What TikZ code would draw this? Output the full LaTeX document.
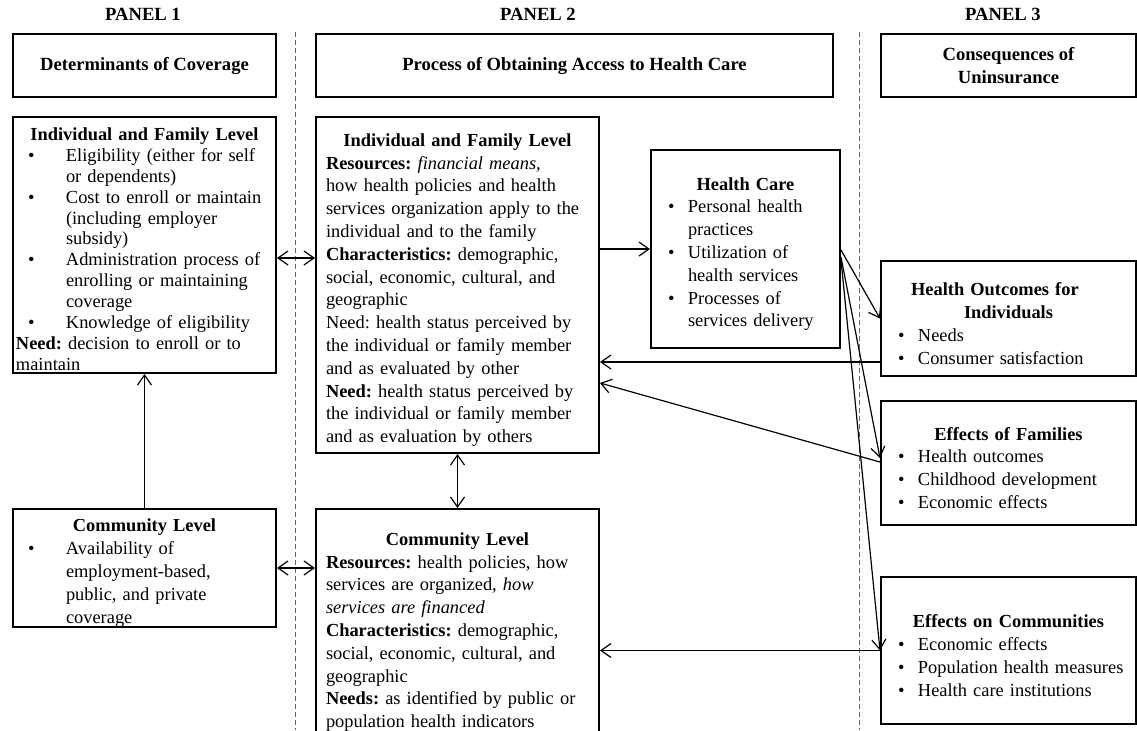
\documentclass[tikz,border=0pt]{standalone}
\usepackage{fontspec}
\setmainfont{Liberation Serif}
\usetikzlibrary{arrows.meta}
\frenchspacing

\newlength\pxu
\setlength\pxu{0.5pt}
\newcommand\hd[1]{\par{\centering\bfseries #1\par}}
\newcommand\txt[1]{\par{\noindent #1\par}}
\newcommand\bul[3]{\par{\leftskip=#1\relax\noindent\hspace*{\dimexpr#2-#1\relax}\makebox[\dimexpr#1-#2\relax][l]{\textbullet}#3\par}}
\newcommand\wbul[1]{\bul{25pt}{6pt}{#1}}
\newcommand\nbul[1]{\bul{17pt}{7pt}{#1}}

\begin{document}
\begin{tikzpicture}[
    x=0.5pt, y=-0.5pt,
    font=\fontsize{9.2}{11.4}\selectfont,
    >={Straight Barb[length=5pt,width=7pt]},
    box/.style={draw, line width=1pt, anchor=north west, inner ysep=0pt},
    titlebox/.style={box, align=center, font=\fontsize{9.3}{11.4}\selectfont\bfseries},
    textbox/.style={box, align=left},
    panel/.style={font=\fontsize{9.3}{11.4}\selectfont\bfseries},
    sep/.style={dashed, dash pattern=on 2.5pt off 1.5pt, gray!80!black, line width=0.5pt},
    link/.style={line width=0.6pt}
  ]
  \useasboundingbox (0,0) rectangle (1137,730);
  \clip (0,0) rectangle (1137,730);

  \node[panel] (pan1) at (143,14) {PANEL 1};
  \node[panel] (pan2) at (538,14) {PANEL 2};
  \node[panel] (pan3) at (1003,14) {PANEL 3};

  \coordinate (sepa top) at (295,32);
  \coordinate (sepa bot) at (295,730);
  \coordinate (sepb top) at (859,32);
  \coordinate (sepb bot) at (859,730);
  \draw[sep] (sepa top) -- (sepa bot);
  \draw[sep] (sepb top) -- (sepb bot);

  \node[titlebox, minimum width=263\pxu, minimum height=63\pxu] (det) at (12,33) {Determinants of Coverage};
  \node[titlebox, minimum width=517\pxu, minimum height=63\pxu] (proc) at (315,33) {Process of Obtaining Access to Health Care};
  \node[titlebox, minimum width=255\pxu, minimum height=63\pxu] (cons) at (880,33) {Consequences of\\Uninsurance};

  \node[textbox, minimum width=263\pxu, minimum height=256\pxu, text width=257\pxu, inner xsep=3\pxu,
    font=\fontsize{9.2}{10.45}\selectfont] (if1) at (12,116) {
    \hd{Individual and Family Level}
    \wbul{Eligibility (either for self\newline or dependents)}
    \wbul{Cost to enroll or maintain\newline (including employer\newline subsidy)}
    \wbul{Administration process of\newline enrolling or maintaining\newline coverage}
    \wbul{Knowledge of eligibility}
    \txt{\textbf{Need:} decision to enroll or to\newline maintain}};

  \node[textbox, minimum width=263\pxu, minimum height=113\pxu, text width=257\pxu, inner xsep=3\pxu] (c1) at (12,508) {
    \hd{Community Level}
    \wbul{Availability of\newline employment-based,\newline public, and private\newline coverage}};

  \node[textbox, minimum width=283\pxu, minimum height=336\pxu, text width=263\pxu, inner xsep=10\pxu] (if2) at (315,116) {
    \hd{Individual and Family Level}
    \txt{\textbf{Resources:} \textit{financial means,}\newline
      how health policies and health\newline
      services organization apply to the\newline
      individual and to the family}
    \txt{\textbf{Characteristics:} demographic,\newline
      social, economic, cultural, and\newline
      geographic}
    \txt{Need: health status perceived by\newline
      the individual or family member\newline
      and as evaluated by other}
    \txt{\textbf{Need:} health status perceived by\newline
      the individual or family member\newline
      and as evaluation by others}};

  \node[textbox, minimum width=283\pxu, minimum height=236\pxu, text width=263\pxu, inner xsep=10\pxu] (c2) at (315,508) {
    \hd{Community Level}
    \txt{\textbf{Resources:} health policies, how\newline
      services are organized, \textit{how\newline
      services are financed}}
    \txt{\textbf{Characteristics:} demographic,\newline
      social, economic, cultural, and\newline
      geographic}
    \txt{\textbf{Needs:} as identified by public or\newline
      population health indicators}};

  \node[textbox, minimum width=189\pxu, minimum height=198\pxu, text width=183\pxu, inner xsep=3\pxu] (hc) at (650,149) {
    \hd{Health Care}
    \nbul{Personal health\newline practices}
    \nbul{Utilization of\newline health services}
    \nbul{Processes of\newline services delivery}};

  \node[textbox, minimum width=255\pxu, minimum height=115\pxu, text width=249\pxu, inner xsep=3\pxu] (ho) at (880,260) {
    \hd{Health Outcomes for\newline Individuals}
    \nbul{Needs}
    \nbul{Consumer satisfaction}};

  \node[textbox, minimum width=255\pxu, minimum height=124\pxu, text width=249\pxu, inner xsep=3\pxu] (eof) at (880,400) {
    \hd{Effects of Families}
    \nbul{Health outcomes}
    \nbul{Childhood development}
    \nbul{Economic effects}};

  \node[textbox, minimum width=255\pxu, minimum height=147\pxu, text width=249\pxu, inner xsep=3\pxu] (eoc) at (880,576) {
    \hd{Effects on Communities}
    \nbul{Economic effects}
    \nbul{Population health measures}
    \nbul{Health care institutions}};

  \draw[link, ->] (c1.north) -- (if1.south);
  \draw[link, <->] (if1.east |- 0,258) -- (if2.west |- 0,258);
  \draw[link, <->] (c1.east) -- (c1.east -| c2.west);
  \draw[link, <->] (if2.south) -- (c2.north);
  \draw[link, ->] (hc.west -| if2.east) -- (hc.west);
  \draw[link, ->] (hc.east |- 0,250) -- (ho.west);
  \draw[link, ->] (hc.east |- 0,257) -- (eof.west |- 0,458);
  \draw[link, ->] (hc.east |- 0,260) -- (eoc.west);
  \draw[link, ->] (ho.west |- 0,362) -- (if2.east |- 0,362);
  \draw[link, ->] (eof.west |- 0,462) -- (if2.east |- 0,383);
  \draw[link, ->] (eoc.west) -- (eoc.west -| c2.east);
\end{tikzpicture}
\end{document}
